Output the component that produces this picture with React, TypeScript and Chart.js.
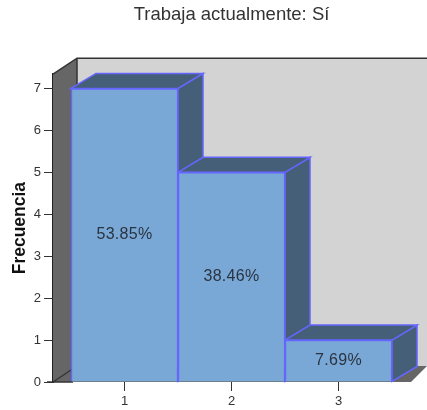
import React, { useEffect, useRef } from "react";
import { Chart, registerables } from "chart.js";

Chart.register(...registerables);

const titleText = "Trabaja actualmente: Sí";
const axisTitle = "Frecuencia";
const categories = [1, 2, 3];
const frequencies = [7, 5, 1];
const percentLabels = ["53.85%", "38.46%", "7.69%"];
const yTicks = [0, 1, 2, 3, 4, 5, 6, 7];

const DX = 24;
const DY = -16;
const BAR_DX = 25;
const BAR_DY = -15;
const FONT = "'Liberation Sans', Arial, sans-serif";

function poly(ctx: CanvasRenderingContext2D, pts: number[][], fill: string, stroke?: string, lw = 1) {
  ctx.beginPath();
  pts.forEach(([x, y], i) => (i ? ctx.lineTo(x, y) : ctx.moveTo(x, y)));
  ctx.closePath();
  ctx.fillStyle = fill;
  ctx.fill();
  if (stroke) {
    ctx.strokeStyle = stroke;
    ctx.lineWidth = lw;
    ctx.stroke();
  }
}

const box3d = {
  id: "box3d",
  beforeDatasetsDraw(chart: any) {
    const { ctx, chartArea: a } = chart;
    const L = a.left, B = a.bottom, T = a.top;
    const W = chart.width;
    ctx.save();
    // back wall
    poly(ctx, [[L + DX, T + DY], [W, T + DY], [W, B + DY], [L + DX, B + DY]], "#d3d3d3");
    // floor
    poly(ctx, [[L, B], [L + DX, B + DY], [W, B + DY], [W - 16, B]], "#666666");
    // left wall
    poly(ctx, [[L, T], [L + DX, T + DY], [L + DX, B + DY], [L, B]], "#666666");
    // edges
    ctx.strokeStyle = "#333333";
    ctx.lineWidth = 1.5;
    ctx.beginPath();
    ctx.moveTo(L, T);
    ctx.lineTo(L + DX, T + DY);
    ctx.lineTo(W, T + DY);
    ctx.moveTo(L + DX, T + DY);
    ctx.lineTo(L + DX, B + DY);
    ctx.moveTo(L, B);
    ctx.lineTo(L + DX, B + DY);
    ctx.moveTo(L - 6, B);
    ctx.lineTo(L + 20, B);
    ctx.stroke();
    // bar depth faces
    const meta = chart.getDatasetMeta(0);
    meta.data.forEach((bar: any) => {
      const p = bar.getProps(["x", "y", "base", "width"], true);
      const l = p.x - p.width / 2, r = p.x + p.width / 2;
      const edge = "#6666ff";
      poly(ctx, [[r, p.y], [r + BAR_DX, p.y + BAR_DY], [r + BAR_DX, p.base + BAR_DY], [r, p.base]], "#465f78", edge, 1.5);
      poly(ctx, [[l, p.y], [l + BAR_DX, p.y + BAR_DY], [r + BAR_DX, p.y + BAR_DY], [r, p.y]], "#465f78", edge, 1.5);
    });
    ctx.restore();
  },
  afterDatasetsDraw(chart: any) {
    const { ctx } = chart;
    ctx.save();
    ctx.fillStyle = "#2a3440";
    ctx.font = `16px ${FONT}`;
    (ctx as any).letterSpacing = "0.3px";
    ctx.textAlign = "center";
    ctx.textBaseline = "middle";
    chart.getDatasetMeta(0).data.forEach((bar: any, i: number) => {
      const p = bar.getProps(["x", "y", "base"], true);
      ctx.fillText(percentLabels[i], p.x, (p.y + p.base) / 2);
    });
    (ctx as any).letterSpacing = "0px";
    ctx.restore();
  },
};

export default function App() {
  const ref = useRef<HTMLCanvasElement>(null);
  useEffect(() => {
    const chart = new Chart(ref.current!, {
      type: "bar",
      data: {
        datasets: [
          {
            data: categories.map((c, i) => ({ x: c, y: frequencies[i] })),
            backgroundColor: "#79a8d6",
            borderColor: "#6666ff",
            borderWidth: 1.5,
            barPercentage: 1,
            categoryPercentage: 1,
          },
        ],
      },
      options: {
        animation: false,
        responsive: false,
        layout: { padding: { top: 0, right: 17, left: 0, bottom: 0 } },
        plugins: {
          legend: { display: false },
          tooltip: { enabled: false },
          title: {
            display: true,
            text: titleText,
            fullSize: false,
            color: "#333333",
            font: { family: FONT, size: 18.5, weight: "normal" },
            padding: { top: 4, bottom: 48 },
          } as any,
        },
        scales: {
          x: {
            type: "linear",
            offset: false,
            min: 0.3318,
            max: 3.668,
            afterBuildTicks(s: any) {
              s.ticks = categories.map((value) => ({ value }));
            },
            afterFit(s: any) {
              s.height = 28;
            },
            border: { display: false },
            grid: { offset: false, drawOnChartArea: false, drawTicks: true, tickLength: 9, color: "#333333", lineWidth: 1 },
            ticks: { color: "#333333", padding: 3, maxRotation: 0, autoSkip: false, font: { family: FONT, size: 13 } },
          },
          y: {
            min: 0,
            max: 7.34,
            afterBuildTicks(s: any) {
              s.ticks = yTicks.map((value) => ({ value }));
            },
            afterFit(s: any) {
              s.width = 53;
            },
            border: { display: true, color: "#222222", width: 2 },
            grid: { drawOnChartArea: false, drawTicks: true, tickLength: 9, color: "#333333", lineWidth: 1 },
            ticks: { color: "#333333", padding: 3, font: { family: FONT, size: 13 } },
            title: {
              display: true,
              text: axisTitle,
              color: "#111111",
              padding: { top: 10, bottom: 0 },
              font: { family: FONT, size: 17.5, weight: "bold" },
            },
          },
        },
      },
      plugins: [box3d],
    } as any);
    return () => chart.destroy();
  }, []);
  return (
    <div style={{ position: "absolute", left: 0, top: 0, width: 427, height: 410 }}>
      <canvas ref={ref} width={427} height={410} style={{ display: "block" }} />
    </div>
  );
}
